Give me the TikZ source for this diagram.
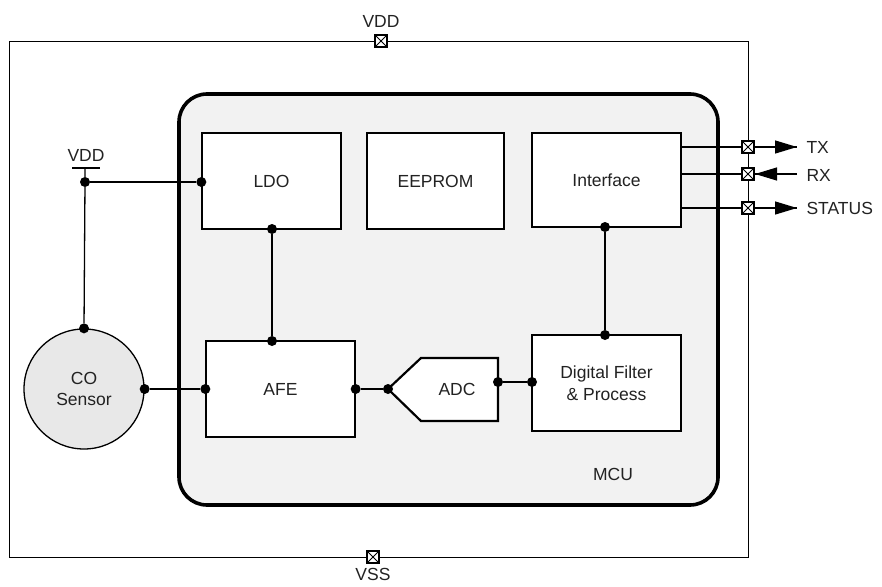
\documentclass[tikz,border=0pt]{standalone}
\usepackage{fontspec}
\setmainfont{Liberation Sans}
\usetikzlibrary{arrows.meta}
\definecolor{mcugray}{HTML}{F2F2F2}
\definecolor{cogray}{HTML}{E8E8E8}
\definecolor{txt}{HTML}{222222}
\begin{document}
\begin{tikzpicture}[x=1pt,y=-1pt,
  every node/.style={text=txt, font=\fontsize{17.5}{21.5}\selectfont},
  blk/.style={draw=black, line width=1.3pt, fill=white, inner sep=0pt, minimum width=#1, minimum height=96pt, align=center},
  blk/.default=139pt,
  dot/.style={circle, fill=black, draw=none, inner sep=0pt, minimum size=10pt},
  pin/.style={draw=black, line width=1.6pt, fill=white, inner sep=0pt, minimum size=12.5pt,
    path picture={\draw[line width=1pt] (path picture bounding box.north west) -- (path picture bounding box.south east)
      (path picture bounding box.north east) -- (path picture bounding box.south west);}},
  wire/.style={line width=1.3pt},
  tip/.style={-{Triangle[length=22pt,width=13pt]}}
]
\useasboundingbox (0,0) rectangle (882,586);

% outer chip
\node[draw=black, line width=0.9pt, minimum width=739pt, minimum height=516pt, inner sep=0pt] (chip) at (378.5,299) {};

% MCU
\node[draw=black, line width=3.6pt, rounded corners=28pt, fill=mcugray, minimum width=539pt, minimum height=411pt, inner sep=0pt] (mcu) at (448.5,299.5) {};
\node (mculbl) at (613,474) {MCU};

% blocks
\node[blk] (ldo) at (271.5,181) {LDO};
\node[blk=137pt] (eeprom) at (435.5,181) {EEPROM};
\node[blk=149pt, minimum height=94pt] (intf) at (606.5,180) {Interface};
\node[blk=149pt] (afe) at (280.5,389) {AFE};
\node[blk=149pt] (dfp) at (606.5,383) {Digital Filter\\\& Process};

% ADC
\coordinate (adcL) at (388,389);
\coordinate (adcTL) at (421,358);
\coordinate (adcTR) at (498,358);
\coordinate (adcBR) at (498,421);
\coordinate (adcBL) at (421,421);
\draw[line width=2.2pt, fill=white, line join=miter] (adcL) -- (adcTL) -- (adcTR) -- (adcBR) -- (adcBL) -- cycle;
\node (adc) at (457,389) {ADC};

% CO sensor
\node[circle, draw=black, line width=1.3pt, fill=cogray, minimum size=120pt, inner sep=0pt, align=center] (co) at (84,389) {CO\\Sensor};

% left VDD
\coordinate (vbarL) at (72,168);
\coordinate (vbarR) at (100,168);
\coordinate (vbarM) at (85,168);
\draw[line width=2.2pt] (vbarL) -- (vbarR);
\node[anchor=south] (vddl) at (86,165) {VDD};

% dots
\node[dot] (j1) at (85,182) {};
\node[dot] (ldoW) at (ldo.west |- j1) {};
\node[dot] (ldoS) at (272,229) {};
\node[dot] (afeN) at (272,341) {};
\node[dot] (coN) at (co.north) {};
\node[dot] (coE) at (co.east) {};
\node[dot] (afeW) at (afe.west) {};
\node[dot] (afeE) at (afe.east) {};
\node[dot] (adcLd) at (adcL) {};
\node[dot] (adcRd) at (498,382) {};
\node[dot] (dfpW) at (532,382) {};
\node[dot] (intfS) at (605,227) {};
\node[dot] (dfpN) at (605,335) {};

% wires
\draw[wire] (vbarM) -- (j1) -- (coN);
\draw[wire] (j1) -- (ldoW);
\draw[wire] (ldoS) -- (afeN);
\draw[wire] (coE) -- (afeW);
\draw[wire] (afeE) -- (adcLd);
\draw[wire] (adcRd) -- (dfpW);
\draw[wire] (intfS) -- (dfpN);

% right side pins and signals
\coordinate (iTX) at (681,147);
\coordinate (iRX) at (681,174);
\coordinate (iST) at (681,208);
\coordinate (eTX) at (797,147);
\coordinate (eRX) at (797,174);
\coordinate (eST) at (797,208);
\draw[wire] (iTX) -- (eTX);
\draw[wire] (iRX) -- (eRX);
\draw[wire] (iST) -- (eST);
\node[pin] (pTX) at (748,147) {};
\node[pin] (pRX) at (748,174) {};
\node[pin] (pST) at (748,208) {};
\draw[wire, tip] (pTX.east) -- (eTX);
\draw[wire, tip] (eRX) -- (pRX.east);
\draw[wire, tip] (pST.east) -- (eST);
\node[anchor=west] (ltx) at (803,147) {TX};
\node[anchor=west] (lrx) at (803,175) {RX};
\node[anchor=west] (lst) at (803,208) {STATUS};

% VDD / VSS pins
\node[pin] (pVDD) at (381,41) {};
\node[anchor=south] (lvdd) at (381,31) {VDD};
\node[pin] (pVSS) at (373,557) {};
\node[anchor=north] (lvss) at (373,565) {VSS};
\end{tikzpicture}
\end{document}
